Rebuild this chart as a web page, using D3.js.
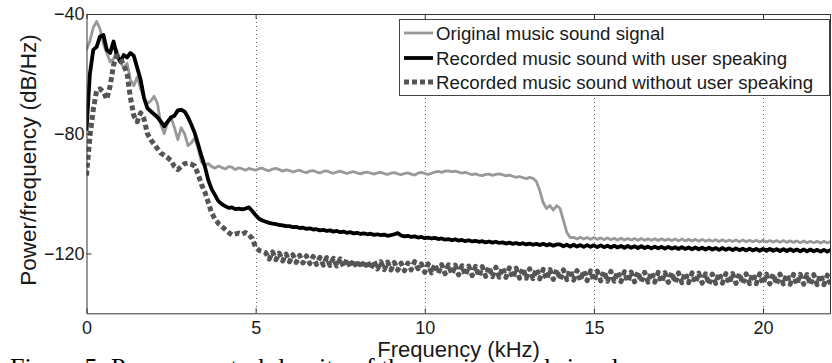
<!DOCTYPE html>
<html><head><meta charset="utf-8">
<script src="https://cdn.jsdelivr.net/npm/d3@7"></script>
<style>
body{margin:0;background:#fff;overflow:hidden;}
svg{display:block;font-family:Arial,"Liberation Sans",sans-serif;}
</style>
</head><body>
<svg id="chart" width="832" height="363"></svg>
<script>
// ---- data ----
const freqStepKHz = 0.1;
const freqCount = 221; // 0.0 .. 22.0 kHz
const xTickValues = [0, 5, 10, 15, 20];
const yTickValues = [-40, -80, -120];
const seriesNames = [
  "Original music sound signal",
  "Recorded music sound with user speaking",
  "Recorded music sound without user speaking"
];
const xLabel = "Frequency (kHz)";
const yLabel = "Power/frequency (dB/Hz)";
const caption = "Figure 5: Power spectral density of the music sound signals";

const originalSignal = [
 -52,-49,-44.5,-42.5,-45,-50,-53,-56,-55,-52,
 -56,-58,-56.5,-62,-64,-61,-65,-68,-70,-69,
 -67.5,-70,-77,-80,-76,-74.5,-78,-82,-78,-80,
 -84,-83,-81.5,-85,-89.5,-90.5,-90,-91,-91.5,-90.8,
 -91.3,-91.8,-91,-91.2,-92,-91.4,-91.7,-92.2,-91.6,-91.9,
 -92.2,-91.7,-91.5,-92.1,-92.4,-91.8,-91.6,-92,-92.5,-92.1,
 -92.3,-92.8,-92.4,-92.2,-92.7,-93,-92.5,-92.3,-92.8,-93.1,
 -92.6,-92.4,-92.9,-93.2,-92.8,-92.5,-92.9,-93.3,-92.9,-92.7,
 -93.1,-93.4,-93,-92.8,-93.2,-93.5,-93.1,-92.9,-93.3,-93.6,
 -93.2,-93,-93.4,-93.7,-93.3,-93.1,-93.5,-93.8,-93.2,-92.9,
 -93.3,-93.6,-93.2,-92.8,-92.6,-92.9,-92.5,-92.4,-92.7,-92.5,
 -92.8,-93.2,-92.9,-93.3,-93.7,-93.4,-93.8,-94,-93.6,-93.5,
 -93.9,-93.6,-93.4,-93.7,-94.1,-93.8,-94.2,-94.6,-94.3,-94.7,
 -95,-94.6,-94.9,-96,-99,-103,-105,-104,-105.5,-104,
 -105,-109,-113,-114.7,-114.6,-115.2,-114.6,-115.2,-114.7,-115.3,
 -114.7,-115.3,-114.8,-115.4,-114.8,-115.4,-114.9,-115.5,-114.9,-115.5,
 -115.0,-115.5,-115.0,-115.6,-115.0,-115.6,-115.1,-115.6,-115.1,-115.7,
 -115.1,-115.7,-115.2,-115.7,-115.2,-115.8,-115.2,-115.8,-115.3,-115.8,
 -115.3,-115.9,-115.3,-115.9,-115.4,-115.9,-115.4,-116.0,-115.4,-116.0,
 -115.5,-116.0,-115.5,-116.1,-115.5,-116.1,-115.6,-116.1,-115.6,-116.2,
 -115.6,-116.2,-115.7,-116.2,-115.7,-116.3,-115.7,-116.3,-115.8,-116.3,
 -115.8,-116.4,-115.8,-116.4,-115.9,-116.4,-115.9,-116.5,-115.9,-116.5,
 -116.0
];

const withUserSpeaking = [
 -79,-60,-52,-51,-47.5,-47,-52,-53,-49.2,-54,
 -56,-53.7,-54.5,-53,-54,-58,-62,-68,-71.5,-72.5,
 -73.5,-74.5,-76,-77.5,-76,-74.5,-74,-72.2,-72,-72.6,
 -74.5,-77,-79.8,-83.5,-87.5,-91,-95.5,-98.5,-100.5,-102.5,
 -103.5,-104.2,-104.8,-104.6,-105.2,-105,-105.3,-105,-104.6,-105.8,
 -107.2,-108.4,-109,-109.4,-109.8,-110,-110.2,-110.5,-110.6,-110.9,
 -110.9,-111.2,-111.1,-111.5,-111.4,-111.8,-111.6,-112.0,-111.9,-112.3,
 -112.1,-112.5,-112.3,-112.7,-112.5,-112.9,-112.7,-113.1,-112.9,-113.3,
 -113.1,-113.5,-113.3,-113.6,-113.4,-113.8,-113.6,-113.9,-113.7,-114.1,
 -113.9,-113.6,-113.2,-114.0,-114.3,-114.1,-114.5,-114.3,-114.7,-114.5,
 -114.9,-114.7,-115.0,-114.8,-115.2,-115.0,-115.4,-115.2,-115.6,-115.3,
 -115.7,-115.5,-115.9,-115.6,-116.0,-115.8,-116.1,-115.9,-116.3,-116.0,
 -116.4,-116.1,-116.5,-116.3,-116.7,-116.4,-116.8,-116.5,-116.9,-116.6,
 -117.0,-116.7,-117.1,-116.8,-117.2,-116.8,-117.3,-116.9,-117.4,-117.0,
 -117.0,-117.6,-117.1,-117.7,-117.1,-117.7,-117.2,-117.8,-117.2,-117.8,
 -117.3,-117.9,-117.3,-117.9,-117.4,-118.0,-117.4,-118.0,-117.5,-118.1,
 -117.5,-118.1,-117.6,-118.2,-117.6,-118.2,-117.7,-118.3,-117.7,-118.3,
 -117.8,-118.4,-117.8,-118.4,-117.9,-118.5,-117.9,-118.5,-118.0,-118.6,
 -118.0,-118.6,-118.1,-118.7,-118.1,-118.7,-118.2,-118.8,-118.2,-118.8,
 -118.3,-118.9,-118.3,-118.9,-118.4,-119.0,-118.4,-119.0,-118.5,-119.1,
 -118.5,-119.1,-118.5,-119.1,-118.6,-119.2,-118.6,-119.2,-118.6,-119.2,
 -118.7,-119.3,-118.7,-119.3,-118.7,-119.3,-118.8,-119.4,-118.8,-119.4,
 -118.8
];

const withoutUserSpeaking = [
 -94,-81,-72,-65.5,-65,-66,-68.5,-64,-57,-54,
 -55,-57,-60,-68,-74,-76,-73,-75,-80,-82,
 -83.5,-85,-86.5,-87.2,-88,-89,-91,-92,-91,-90,
 -89.8,-90.2,-90.8,-93.5,-97,-99.5,-103,-106.5,-108.5,-110,
 -111,-112,-113,-113.8,-113.5,-113.2,-113.6,-113,-113.8,-115,
 -118,-119,-119.3,-119.8,-121.9,-119.5,-122.1,-119.9,-122.5,-120.2,
 -122.8,-120.4,-123.0,-120.6,-123.2,-120.8,-123.4,-121.0,-123.7,-121.3,
 -123.9,-121.4,-124.0,-121.6,-124.2,-121.8,-124.4,-122.0,-124.6,-122.2,
 -124.8,-122.3,-124.9,-122.5,-125.1,-122.6,-125.2,-122.8,-125.4,-122.9,
 -125.5,-123.0,-125.6,-123.2,-125.8,-123.2,-125.5,-122.7,-125.1,-123.5,
 -126.3,-123.5,-126.5,-123.6,-126.6,-123.7,-126.8,-123.8,-126.9,-123.9,
 -127.2,-124.1,-127.3,-124.2,-127.4,-124.3,-127.6,-124.4,-127.7,-124.5,
 -127.8,-124.6,-127.9,-124.7,-128.0,-124.8,-128.2,-124.9,-128.3,-125.0,
 -128.3,-125.1,-128.4,-125.2,-128.5,-125.3,-128.6,-125.4,-128.7,-125.4,
 -128.7,-125.5,-128.8,-125.6,-128.9,-125.7,-129.0,-125.8,-129.1,-125.8,
 -129.1,-125.9,-129.2,-126.0,-129.3,-126.0,-129.3,-126.1,-129.4,-126.1,
 -129.4,-126.2,-129.5,-126.2,-129.5,-126.3,-129.6,-126.3,-129.6,-126.3,
 -129.6,-126.4,-129.7,-126.4,-129.7,-126.5,-129.8,-126.5,-129.8,-126.5,
 -129.8,-126.6,-129.9,-126.8,-130.3,-126.9,-130.0,-126.6,-129.9,-126.7,
 -130.0,-126.7,-130.0,-126.7,-130.0,-126.8,-130.1,-126.8,-130.1,-126.8,
 -130.1,-126.9,-130.2,-126.9,-130.2,-126.9,-130.2,-127.0,-130.3,-127.0,
 -130.3,-127.0,-130.3,-127.1,-130.4,-127.1,-130.4,-127.1,-130.4,-127.2,
 -130.5
];

// ---- chart ----
const frequencies = d3.range(freqCount).map(i => +(i * freqStepKHz).toFixed(1));
const svg = d3.select("#chart");
const L = 86.5, R = 831, T = 14, B = 313.3;
const x = d3.scaleLinear().domain([0, 22]).range([L, 830.7]);
const y = d3.scaleLinear().domain([-140, -40]).range([B, T]);

const styles = [
  {color: "#999999", width: 2.8, dash: null},
  {color: "#000000", width: 3.8, dash: null},
  {color: "#555555", width: 5, dash: "5,3"}
];
const seriesValues = [originalSignal, withUserSpeaking, withoutUserSpeaking];

svg.append("defs").append("clipPath").attr("id", "plotclip")
  .append("rect").attr("x", L).attr("y", T).attr("width", R - L).attr("height", B - T);

// grid
const grid = svg.append("g").attr("stroke", "#666").attr("stroke-width", 1).attr("stroke-dasharray", "1,3");
grid.selectAll(".gx").data(xTickValues.filter(d => d > 0)).join("line")
  .attr("x1", d => Math.round(x(d)) + 0.5).attr("x2", d => Math.round(x(d)) + 0.5)
  .attr("y1", T).attr("y2", B);
grid.selectAll(".gy").data(yTickValues.filter(d => d > -40)).join("line")
  .attr("y1", d => Math.round(y(d)) + 0.5).attr("y2", d => Math.round(y(d)) + 0.5)
  .attr("x1", L).attr("x2", R);

// series
const line = d3.line().x((d, i) => x(frequencies[i])).y(d => y(d));
const plot = svg.append("g").attr("clip-path", "url(#plotclip)");
seriesValues.forEach((vals, k) => {
  plot.append("path").datum(vals)
    .attr("fill", "none")
    .attr("stroke", styles[k].color)
    .attr("stroke-width", styles[k].width)
    .attr("stroke-linejoin", "round")
    .attr("stroke-dasharray", styles[k].dash)
    .attr("d", line);
});

// axes
const axisColor = "#333";
const xAxis = svg.append("g").attr("transform", `translate(0,${B})`)
  .call(d3.axisBottom(x).tickValues(xTickValues).tickSizeInner(-5).tickSizeOuter(0).tickPadding(8));
const yAxis = svg.append("g").attr("transform", `translate(${L},0)`)
  .call(d3.axisLeft(y).tickValues(yTickValues).tickSizeInner(-5).tickSizeOuter(0).tickPadding(2));
const xTop = svg.append("g").attr("transform", `translate(0,${T})`)
  .call(d3.axisTop(x).tickValues(xTickValues).tickSizeInner(-5).tickSizeOuter(0).tickFormat(""));
[xAxis, yAxis, xTop].forEach(g => {
  g.select(".domain").attr("stroke", axisColor);
  g.selectAll(".tick line").attr("stroke", axisColor);
  g.selectAll(".tick text").attr("fill", "#1a1a1a").style("font-size", "18px").style("font-family", "Arial, 'Liberation Sans', sans-serif");
});
svg.append("line").attr("x1", R - 0.5).attr("x2", R - 0.5).attr("y1", T).attr("y2", B).attr("stroke", axisColor);

// axis titles
svg.append("text").attr("x", (L + 830.7) / 2).attr("y", 356.5)
  .attr("text-anchor", "middle").attr("fill", "#1a1a1a").style("font-size", "22px").text(xLabel);
svg.append("text").attr("transform", `translate(36,160) rotate(-90)`)
  .attr("text-anchor", "middle").attr("fill", "#1a1a1a").style("font-size", "22.5px").text(yLabel);

// legend
const lg = svg.append("g");
lg.append("rect").attr("x", 399.5).attr("y", 19.5).attr("width", 430).attr("height", 76)
  .attr("fill", "#fff").attr("stroke", "#444").attr("stroke-width", 1);
const rowY = [33, 58, 82];
seriesNames.forEach((name, k) => {
  lg.append("line").attr("x1", 404).attr("x2", 433).attr("y1", rowY[k]).attr("y2", rowY[k])
    .attr("stroke", styles[k].color).attr("stroke-width", styles[k].width)
    .attr("stroke-dasharray", styles[k].dash);
  lg.append("text").attr("x", 436).attr("y", rowY[k]).attr("dy", "0.35em")
    .attr("fill", "#1a1a1a").style("font-size", "18.7px").text(name);
});

// caption (mostly cut off by the frame, as in the source image)
svg.append("text").attr("x", 10).attr("y", 376)
  .style("font-family", "'Liberation Serif', 'DejaVu Serif', serif").style("font-size", "26px")
  .attr("fill", "#000").text(caption);
</script>
</body></html>
